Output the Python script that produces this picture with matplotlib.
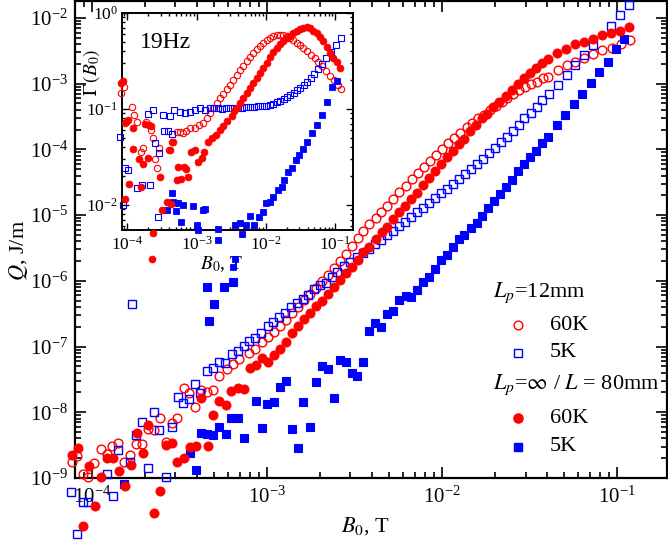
import matplotlib
matplotlib.use("Agg")
import matplotlib.pyplot as plt
import numpy as np

plt.rcParams["font.family"] = ["Liberation Serif", "DejaVu Serif"]
plt.rcParams["mathtext.fontset"] = "stix"

RED, BLUE = "#ff0000", "#0000ff"

# ---- main panel: Q(B0), values as log10(B0 / T) and log10(Q / (J/m)) ----
# L_p = 12 mm, 60 K (open circles)
logB_o60 = [-4.114, -4.086, -4.051, -4.023, -3.989, -3.949, -3.914, -3.886, -3.851, -3.817,
            -3.783, -3.749, -3.714, -3.68, -3.646, -3.611, -3.577, -3.543, -3.514, -3.474,
            -3.446, -3.411, -3.377, -3.343, -3.309, -3.274, -3.229, -3.194, -3.16, -3.103,
            -3.069, -3.029, -2.994, -2.96, -2.926, -2.891, -2.857, -2.823, -2.789, -2.754,
            -2.72, -2.686, -2.651, -2.617, -2.583, -2.549, -2.514, -2.48, -2.451, -2.417,
            -2.377, -2.349, -2.314, -2.28, -2.246, -2.206, -2.171, -2.137, -2.103, -2.069,
            -2.034, -2.0, -1.966, -1.931, -1.897, -1.857, -1.829, -1.794, -1.76, -1.726,
            -1.691, -1.657, -1.629, -1.594, -1.56, -1.526, -1.491, -1.457, -1.423, -1.394,
            -1.337, -1.286, -1.24, -1.189, -1.137, -1.086, -1.029, -0.977, -0.926]
logQ_o60 = [-8.757, -8.666, -8.939, -8.985, -8.772, -8.559, -8.635, -8.514, -8.468, -8.757,
            -8.65, -8.483, -8.483, -8.255, -8.271, -8.088, -8.453, -8.164, -8.088, -7.632,
            -7.708, -7.921, -7.663, -7.693, -7.663, -7.45, -7.343, -7.267, -7.191, -7.1,
            -7.04, -6.933, -6.857, -6.781, -6.69, -6.599, -6.492, -6.401, -6.295, -6.204,
            -6.112, -6.006, -5.915, -5.808, -5.702, -5.596, -5.474, -5.353, -5.246, -5.14,
            -5.049, -4.957, -4.866, -4.76, -4.653, -4.562, -4.456, -4.365, -4.274, -4.182,
            -4.091, -4.0, -3.909, -3.833, -3.757, -3.666, -3.605, -3.529, -3.483, -3.407,
            -3.347, -3.286, -3.225, -3.164, -3.103, -3.058, -3.012, -2.967, -2.921, -2.891,
            -2.799, -2.723, -2.663, -2.602, -2.541, -2.495, -2.45, -2.389, -2.343]

# L_p = 12 mm, 5 K (open squares)
logB_o5 = [-4.12, -4.086, -4.051, -4.023, -3.914, -3.88, -3.851, -3.783, -3.771, -3.749,
           -3.714, -3.68, -3.646, -3.617, -3.577, -3.543, -3.509, -3.48, -3.446, -3.411,
           -3.383, -3.343, -3.309, -3.274, -3.24, -3.2, -3.166, -3.131, -3.103, -3.069,
           -3.034, -2.994, -2.966, -2.931, -2.897, -2.863, -2.829, -2.794, -2.766, -2.731,
           -2.697, -2.663, -2.629, -2.6, -2.56, -2.526, -2.486, -2.451, -2.417, -2.383,
           -2.349, -2.314, -2.28, -2.246, -2.211, -2.177, -2.143, -2.109, -2.074, -2.04,
           -2.006, -1.971, -1.937, -1.903, -1.869, -1.834, -1.8, -1.766, -1.731, -1.697,
           -1.663, -1.629, -1.594, -1.56, -1.531, -1.491, -1.457, -1.429, -1.389, -1.337,
           -1.286, -1.24, -1.189, -1.137, -1.034, -0.983, -0.931]
logQ_o5 = [-9.213, -9.851, -9.365, -9.365, -8.939, -9.274, -8.574, -8.757, -6.356, -8.347,
           -8.149, -8.848, -7.997, -8.271, -8.985, -8.225, -7.769, -7.86, -7.799, -7.571,
           -7.708, -7.374, -7.328, -7.237, -7.252, -7.116, -7.07, -6.994, -6.918, -6.872,
           -6.796, -6.69, -6.629, -6.553, -6.492, -6.401, -6.34, -6.28, -6.219, -6.128,
           -6.067, -6.036, -5.945, -5.869, -5.778, -5.717, -5.641, -5.581, -5.52, -5.444,
           -5.383, -5.307, -5.246, -5.17, -5.109, -5.033, -4.957, -4.897, -4.821, -4.745,
           -4.669, -4.608, -4.532, -4.456, -4.38, -4.304, -4.228, -4.152, -4.061, -3.985,
           -3.894, -3.818, -3.726, -3.635, -3.529, -3.453, -3.362, -3.255, -3.164, -3.027,
           -2.875, -2.723, -2.571, -2.419, -2.116, -1.948, -1.796]

# L_p = inf / L = 80 mm, 60 K (filled circles)
logB_f60 = [-4.114, -4.08, -4.051, -4.017, -3.983, -3.949, -3.914, -3.88, -3.846, -3.811,
            -3.777, -3.743, -3.709, -3.68, -3.646, -3.611, -3.577, -3.543, -3.514, -3.474,
            -3.44, -3.406, -3.377, -3.337, -3.309, -3.274, -3.234, -3.206, -3.166, -3.131,
            -3.097, -3.063, -3.029, -2.994, -2.96, -2.926, -2.891, -2.857, -2.823, -2.789,
            -2.754, -2.72, -2.686, -2.651, -2.617, -2.583, -2.549, -2.514, -2.48, -2.451,
            -2.417, -2.377, -2.343, -2.314, -2.28, -2.246, -2.211, -2.177, -2.143, -2.109,
            -2.074, -2.04, -2.006, -1.971, -1.937, -1.903, -1.874, -1.84, -1.806, -1.771,
            -1.743, -1.709, -1.674, -1.634, -1.6, -1.566, -1.531, -1.497, -1.463, -1.429,
            -1.394, -1.343, -1.291, -1.24, -1.189, -1.137, -1.086, -1.034, -0.983, -0.931]
logQ_f60 = [-8.65, -8.544, -9.73, -8.818, -9.426, -8.985, -8.696, -8.696, -8.894, -9.122,
            -8.802, -8.316, -8.62, -8.195, -9.532, -9.198, -8.498, -8.468, -8.757, -8.696,
            -8.529, -8.514, -7.784, -8.514, -8.043, -7.83, -7.891, -7.678, -7.632, -7.647,
            -7.328, -7.283, -7.176, -7.237, -7.131, -7.04, -6.933, -6.796, -6.69, -6.584,
            -6.492, -6.386, -6.31, -6.204, -6.097, -5.991, -5.884, -5.793, -5.687, -5.565,
            -5.489, -5.368, -5.261, -5.185, -5.064, -4.957, -4.866, -4.76, -4.669, -4.547,
            -4.441, -4.334, -4.228, -4.122, -4.03, -3.924, -3.848, -3.726, -3.635, -3.529,
            -3.468, -3.362, -3.286, -3.195, -3.103, -3.012, -2.921, -2.845, -2.769, -2.693,
            -2.632, -2.526, -2.465, -2.389, -2.359, -2.313, -2.267, -2.222, -2.191, -2.131]

# L_p = inf / L = 80 mm, 5 K (filled squares)
logB_f5 = [-3.817, -3.44, -3.406, -3.377, -3.343, -3.309, -3.274, -3.234, -3.206, -3.166,
           -3.131, -3.063, -3.029, -3.0, -2.96, -2.926, -2.891, -2.857, -2.823, -2.794,
           -2.754, -2.72, -2.686, -2.651, -2.617, -2.583, -2.549, -2.514, -2.486, -2.451,
           -2.417, -2.383, -2.349, -2.314, -2.28, -2.246, -2.206, -2.177, -2.143, -2.109,
           -2.074, -2.04, -2.006, -1.971, -1.937, -1.903, -1.874, -1.834, -1.8, -1.771,
           -1.737, -1.703, -1.669, -1.634, -1.6, -1.566, -1.531, -1.497, -1.463, -1.429,
           -1.394, -1.343, -1.297, -1.246, -1.2, -1.149, -1.103, -1.051, -1.006, -0.96,
           -3.343, -3.246, -3.303, -3.331, -3.194]
logQ_f5 = [-9.091, -8.62, -8.878, -8.316, -8.331, -8.347, -8.225, -8.331, -8.088, -8.088,
           -8.392, -7.83, -8.24, -7.875, -7.845, -7.617, -7.526, -8.255, -8.544, -7.845,
           -8.225, -7.541, -7.3, -7.343, -7.784, -7.207, -7.237, -7.404, -7.45, -7.237,
           -6.766, -6.644, -6.705, -6.508, -6.462, -6.295, -6.234, -6.249, -6.143, -6.021,
           -5.945, -5.824, -5.687, -5.611, -5.489, -5.368, -5.307, -5.201, -5.125, -5.018,
           -4.897, -4.79, -4.684, -4.578, -4.471, -4.334, -4.228, -4.122, -4.03, -3.909,
           -3.818, -3.635, -3.483, -3.316, -3.164, -2.997, -2.83, -2.663, -2.48, -2.313,
           -6.097, -6.097, -6.356, -6.614, -6.021]

# ---- inset: Gamma(B0) at 19 Hz, log10 values ----
logB_in_o60 = [-4.094, -4.051, -4.036, -3.935, -3.906, -3.863, -3.805, -3.776, -3.733, -3.661,
               -3.632, -3.603, -3.574, -3.545, -3.401, -3.358, -3.286, -3.242, -3.199, -3.156,
               -3.098, -3.026, -2.968, -2.911, -2.853, -2.81, -2.766, -2.708, -2.665, -2.622,
               -2.564, -2.521, -2.478, -2.42, -2.377, -2.333, -2.276, -2.232, -2.189, -2.131,
               -2.088, -2.045, -1.987, -1.944, -1.9, -1.843, -1.799, -1.756, -1.699, -1.655,
               -1.612, -1.554, -1.511, -1.468, -1.41, -1.352, -1.294, -1.251, -1.193, -1.136,
               -1.078, -1.02, -0.962, -0.919]
logG_in_o60 = [-0.833, -0.771, -1.146, -0.979, -1.063, -1.135, -1.448, -1.406, -1.135, -1.219,
               -1.302, -1.521, -1.615, -1.406, -1.427, -1.344, -1.24, -1.24, -1.25, -1.229,
               -1.198, -1.198, -1.167, -1.146, -1.094, -1.042, -0.99, -0.938, -0.885, -0.844,
               -0.792, -0.75, -0.698, -0.646, -0.594, -0.552, -0.5, -0.458, -0.417, -0.375,
               -0.344, -0.313, -0.281, -0.26, -0.24, -0.229, -0.229, -0.229, -0.24, -0.26,
               -0.281, -0.313, -0.333, -0.365, -0.396, -0.438, -0.469, -0.51, -0.552, -0.604,
               -0.656, -0.698, -0.75, -0.792]

logB_in_o5 = [-4.108, -4.065, -4.036, -3.993, -3.863, -3.791, -3.704, -3.675, -3.632, -3.603,
              -3.56, -3.545, -3.488, -3.473, -3.416, -3.387, -3.358, -3.329, -3.242, -3.17,
              -3.098, -3.026, -2.954, -2.882, -2.81, -2.752, -2.694, -2.636, -2.579, -2.521,
              -2.463, -2.405, -2.348, -2.29, -2.232, -2.175, -2.117, -2.059, -2.001, -1.944,
              -1.9, -1.843, -1.799, -1.742, -1.699, -1.655, -1.597, -1.554, -1.511, -1.453,
              -1.41, -1.352, -1.309, -1.251, -1.193, -1.136, -1.063, -0.991, -0.919]
logG_in_o5 = [-1.292, -2.0, -1.615, -1.635, -1.823, -1.792, -1.052, -1.792, -1.01, -1.354,
              -2.125, -1.458, -1.063, -1.229, -1.229, -1.073, -1.26, -1.01, -1.031, -1.042,
              -1.031, -1.01, -0.99, -1.01, -0.99, -0.99, -0.99, -1.0, -0.99, -0.99,
              -0.99, -0.99, -0.99, -0.979, -0.979, -0.979, -0.969, -0.969, -0.969, -0.958,
              -0.948, -0.927, -0.917, -0.896, -0.875, -0.854, -0.833, -0.802, -0.781, -0.75,
              -0.719, -0.677, -0.635, -0.583, -0.531, -0.469, -0.406, -0.333, -0.26]

logB_in_f60 = [-4.094, -4.065, -4.022, -3.993, -4.036, -3.978, -3.921, -3.921, -3.834, -3.805,
               -3.776, -3.747, -3.704, -3.69, -3.661, -3.531, -3.502, -3.43, -3.387, -3.372,
               -3.343, -3.286, -3.271, -3.228, -3.185, -3.156, -3.127, -3.084, -3.026, -2.983,
               -2.925, -2.896, -2.838, -2.781, -2.723, -2.665, -2.622, -2.564, -2.492, -2.463,
               -2.42, -2.377, -2.333, -2.276, -2.232, -2.189, -2.131, -2.088, -2.045, -1.987,
               -1.944, -1.9, -1.843, -1.799, -1.756, -1.699, -1.655, -1.612, -1.554, -1.511,
               -1.468, -1.41, -1.367, -1.323, -1.265, -1.222, -1.179, -1.121, -1.078, -1.035,
               -0.976, -0.933, -3.632, -3.646]
logG_in_f60 = [-0.729, -0.708, -1.135, -1.115, -1.938, -1.781, -1.198, -1.417, -1.521, -1.813,
               -1.573, -1.156, -1.51, -1.167, -1.177, -1.708, -2.052, -1.969, -1.427, -1.99,
               -1.344, -1.74, -1.604, -1.729, -1.604, -1.625, -1.708, -1.448, -1.427, -1.552,
               -1.51, -1.448, -1.344, -1.302, -1.271, -1.219, -1.177, -1.125, -1.073, -1.021,
               -0.99, -0.938, -0.885, -0.833, -0.781, -0.729, -0.677, -0.625, -0.573, -0.521,
               -0.458, -0.406, -0.365, -0.323, -0.292, -0.26, -0.24, -0.208, -0.188, -0.167,
               -0.156, -0.146, -0.156, -0.188, -0.208, -0.25, -0.292, -0.354, -0.417, -0.469,
               -0.51, -0.573, -2.292, -2.563]

logB_in_f5 = [-3.43, -3.358, -3.343, -3.3, -3.271, -3.228, -3.199, -3.055, -2.997, -2.983,
              -2.911, -2.882, -2.694, -2.449, -2.377, -2.29, -2.232, -2.175, -2.102, -2.045,
              -2.001, -1.944, -1.9, -1.828, -1.771, -1.742, -1.684, -1.626, -1.568, -1.525,
              -1.468, -1.41, -1.338, -1.265, -1.193, -1.121, -1.049, -0.976, -2.348, -2.478,
              -2.449, -2.694]
logG_in_f5 = [-2.052, -1.875, -1.969, -2.063, -1.979, -2.177, -2.0, -2.01, -2.208, -2.26,
              -2.052, -2.042, -2.25, -2.208, -2.188, -2.208, -2.115, -2.208, -2.125, -2.073,
              -1.979, -1.969, -1.917, -1.844, -1.813, -1.74, -1.656, -1.615, -1.531, -1.479,
              -1.417, -1.344, -1.25, -1.167, -1.063, -0.927, -0.771, -0.708, -2.302, -2.646,
              -2.563, -2.365]

main_xticks = [1e-4, 1e-3, 1e-2, 1e-1]
main_yticks = [1e-9, 1e-8, 1e-7, 1e-6, 1e-5, 1e-4, 1e-3, 1e-2]
inset_xticks = [1e-4, 1e-3, 1e-2, 1e-1]
inset_yticks = [1e-2, 1e-1, 1e0]


def dec(v):
    return 10.0 ** np.asarray(v)


def style_log_axes(a, size, major_len, minor_len, width):
    a.set_xscale("log")
    a.set_yscale("log")
    a.tick_params(which="both", direction="in", top=True, right=True,
                  width=width, labelsize=size)
    a.tick_params(which="major", length=major_len)
    a.tick_params(which="minor", length=minor_len)
    for sp in a.spines.values():
        sp.set_linewidth(width + 0.4)


fig = plt.figure(figsize=(6.68, 5.43), dpi=100)

# main panel
ax = fig.add_axes([0.1123, 0.1197, 0.8862, 0.8793])
style_log_axes(ax, 15, 8, 4, 1.2)
ax.tick_params(axis="x", pad=6)
ax.tick_params(axis="y", pad=5)

kw = dict(ls="none", clip_on=False, zorder=3)
ax.plot(dec(logB_o60), dec(logQ_o60), "o", ms=6.3, mfc="none", mec=RED, mew=1.0, **kw)
ax.plot(dec(logB_o5), dec(logQ_o5), "s", ms=5.4, mfc="none", mec=BLUE, mew=1.0, **kw)
ax.plot(dec(logB_f5), dec(logQ_f5), "s", ms=5.6, mfc=BLUE, mec=BLUE, mew=0.8, **kw)
ax.plot(dec(logB_f60), dec(logQ_f60), "o", ms=6.6, mfc=RED, mec=RED, mew=0.6, **kw)

ax.set_xticks(main_xticks)
ax.set_yticks(main_yticks)
ax.set_xlim(8.0e-5, 0.193)
ax.set_ylim(1e-9, 1.84e-2)
ax.set_xlabel(r"$B_0$, T", fontsize=16)
ax.xaxis.set_label_coords(0.49, -0.077)
ax.set_ylabel(r"$Q$, J/m", fontsize=16)
ax.yaxis.set_label_coords(-0.076, 0.477)


# legend, laid out as in the figure
def leg_text(x, y, s, size=16):
    ax.text(x, y, s, transform=ax.transAxes, fontsize=size, va="center", ha="left")


def leg_mark(y, marker, ms, filled, color):
    ax.plot([0.748], [y], marker, ms=ms, transform=ax.transAxes, clip_on=False,
            mfc=color if filled else "none", mec=color, mew=1.0)


leg_text(0.706, 0.389, r"$L_p$=12mm")
leg_mark(0.320, "o", 6.3, False, RED)
leg_text(0.802, 0.320, "60K")
leg_mark(0.262, "s", 5.4, False, BLUE)
leg_text(0.802, 0.262, "5K")
leg_text(0.706, 0.195, r"$L_p$=$\infty$ / $L$ = 80mm")
leg_mark(0.1255, "o", 6.6, True, RED)
leg_text(0.802, 0.1255, "60K")
leg_mark(0.065, "s", 5.6, True, BLUE)
leg_text(0.802, 0.065, "5K")

# inset
axi = fig.add_axes([0.1826, 0.5764, 0.3458, 0.3996])
axi.set_facecolor("white")
style_log_axes(axi, 12.5, 5, 2.5, 1.0)
axi.tick_params(axis="x", pad=4)
axi.tick_params(axis="y", pad=3)

kwi = dict(ls="none", clip_on=False, zorder=3)
axi.plot(dec(logB_in_o60), dec(logG_in_o60), "o", ms=4.6, mfc="none", mec=RED, mew=0.8, **kwi)
axi.plot(dec(logB_in_o5), dec(logG_in_o5), "s", ms=4.2, mfc="none", mec=BLUE, mew=0.8, **kwi)
axi.plot(dec(logB_in_f5), dec(logG_in_f5), "s", ms=4.6, mfc=BLUE, mec=BLUE, mew=0.6, **kwi)
axi.plot(dec(logB_in_f60), dec(logG_in_f60), "o", ms=5.0, mfc=RED, mec=RED, mew=0.5, **kwi)

axi.set_xticks(inset_xticks)
axi.set_yticks(inset_yticks)
axi.set_xlim(8.34e-5, 0.1795)
axi.set_ylim(5.5e-3, 1.0)
axi.set_xlabel(r"$B_0$, T", fontsize=14)
axi.xaxis.set_label_coords(0.43, -0.11)
axi.set_ylabel(r"$\Gamma\,(B_0)$", fontsize=14)
axi.yaxis.set_label_coords(-0.085, 0.728)
axi.text(0.078, 0.866, "19Hz", transform=axi.transAxes, fontsize=17, va="center", ha="left")

fig.savefig("out.png", dpi=100)
